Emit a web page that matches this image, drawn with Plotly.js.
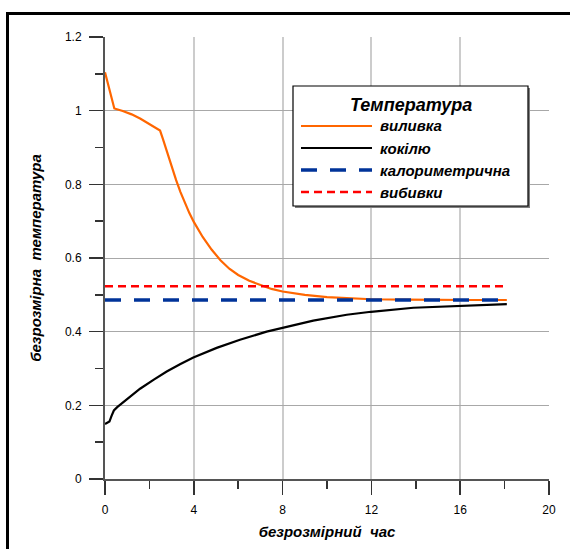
<!DOCTYPE html>
<html>
<head>
<meta charset="utf-8">
<script src="https://cdn.plot.ly/plotly-3.0.1.min.js"></script>
<style>
  html, body { margin: 0; padding: 0; background: #fff; }
  #wrap { position: relative; width: 570px; height: 549px; overflow: hidden; }
  #chart { position: absolute; left: 0; top: 0; width: 570px; height: 549px; }
  #frame { position: absolute; left: 6px; top: 12px; width: 700px; height: 700px;
           border-top: 3px solid #000; border-left: 3px solid #000; pointer-events: none; }
</style>
</head>
<body>
<div id="wrap"><div id="chart"></div><div id="frame"></div></div>
<script>
// ---- data ----
const seriesNames = ["виливка", "кокілю", "калориметрична", "вибивки"];
const legendTitle = "Температура";
const xTitle = "безрозмірний&nbsp;&nbsp;час";
const yTitle = "безрозмірна&nbsp;&nbsp;температура";

const castX = [0, 0.42, 0.8, 1.2, 1.6, 2.0, 2.48, 2.6, 2.8, 3.0, 3.2, 3.4, 3.6, 3.8, 4.0, 4.4, 4.8, 5.2, 5.6, 6.0, 6.5, 7.0, 7.5, 8.0, 9.0, 10.0, 11.0, 12.0, 13.5, 15.0, 16.5, 18.1];
const castY = [1.104, 1.006, 0.999, 0.990, 0.978, 0.963, 0.946, 0.925, 0.887, 0.848, 0.812, 0.779, 0.749, 0.722, 0.698, 0.657, 0.623, 0.594, 0.571, 0.554, 0.538, 0.526, 0.516, 0.509, 0.500, 0.494, 0.490, 0.488, 0.487, 0.486, 0.486, 0.486];

const mouldX = [0, 0.2, 0.3, 0.4, 0.55, 0.68, 1.0, 1.58, 2.2, 2.78, 3.4, 3.98, 5.03, 6.08, 7.28, 8.03, 8.78, 9.38, 10.89, 11.98, 13.89, 15.99, 18.1];
const mouldY = [0.149, 0.156, 0.172, 0.186, 0.195, 0.201, 0.217, 0.245, 0.270, 0.292, 0.312, 0.330, 0.356, 0.378, 0.400, 0.411, 0.422, 0.430, 0.446, 0.454, 0.465, 0.471, 0.475];

const caloX = [0, 18.1];
const caloY = [0.486, 0.486];

const knockX = [0, 18.1];
const knockY = [0.523, 0.523];

const xTickVals = [0, 4, 8, 12, 16, 20];
const yTickVals = [0, 0.2, 0.4, 0.6, 0.8, 1, 1.2];
const yTickText = ["0", "0.2", "0.4", "0.6", "0.8", "1", "1.2"];

// ---- styles ----
const FONT = "Liberation Sans, Arial, sans-serif";
const styles = [
  {color: "#ff6600", width: 2.2, dash: "solid"},
  {color: "#000000", width: 2.2, dash: "solid"},
  {color: "#003399", width: 3.5, dash: "16px,13px"},
  {color: "#ff0000", width: 2.5, dash: "8px,5px"}
];

const xs = [castX, mouldX, caloX, knockX];
const ys = [castY, mouldY, caloY, knockY];
const order = [1, 0, 3, 2];
const traces = order.map(i => ({
  x: xs[i], y: ys[i], type: "scatter", mode: "lines", name: seriesNames[i],
  line: {color: styles[i].color, width: styles[i].width, dash: styles[i].dash},
  showlegend: false, hoverinfo: "skip"
}));

// plot area in px: left 105, right 549, top 37, bottom 479
const L = 105, R = 549, T = 37, B = 479;
const PX = p => (p - L) / (R - L);
const PY = p => (B - p) / (B - T);

// legend drawn as layout decoration
const box = {x0: 293, x1: 528, y0: 86, y1: 206};
const rows = [126, 148, 170, 192];
const shapes = [
  {type: "rect", xref: "paper", yref: "paper", x0: PX(box.x0 + 2), x1: PX(box.x1 + 2), y0: PY(box.y0 + 2), y1: PY(box.y1 + 2),
   fillcolor: "#7f7f7f", line: {width: 0}, layer: "above"},
  {type: "rect", xref: "paper", yref: "paper", x0: PX(box.x0), x1: PX(box.x1), y0: PY(box.y0), y1: PY(box.y1),
   fillcolor: "#ffffff", line: {color: "#000000", width: 1.2}, layer: "above"}
];
const annotations = [
  {xref: "paper", yref: "paper", x: PX(411), y: PY(105), text: "<b><i>" + legendTitle + "</i></b>",
   showarrow: false, xanchor: "center", yanchor: "middle", font: {family: FONT, size: 18, color: "#000"}}
];
seriesNames.forEach((n, i) => {
  shapes.push({type: "line", xref: "paper", yref: "paper", x0: PX(301), x1: PX(372), y0: PY(rows[i]), y1: PY(rows[i]),
    line: {color: styles[i].color, width: styles[i].width, dash: styles[i].dash}, layer: "above"});
  annotations.push({xref: "paper", yref: "paper", x: PX(378), y: PY(rows[i]), text: "<b><i>" + n + "</i></b>",
    showarrow: false, xanchor: "left", yanchor: "middle", font: {family: FONT, size: 15, color: "#000"}});
});

const layout = {
  width: 570, height: 549,
  margin: {l: L, r: 570 - R, t: T, b: 549 - B, pad: 0},
  paper_bgcolor: "#ffffff", plot_bgcolor: "#ffffff",
  font: {family: FONT, size: 12, color: "#000"},
  showlegend: false,
  xaxis: {
    range: [0, 20], tickvals: xTickVals, ticktext: xTickVals.map(String),
    showgrid: true, gridcolor: "#cccccc", gridwidth: 2,
    zeroline: false, showline: true, linecolor: "#555555", linewidth: 2,
    ticks: "outside", ticklen: 14, tickwidth: 1.5, tickcolor: "#333333",
    ticklabelstandoff: 5,
    minor: {dtick: 2, ticks: "outside", ticklen: 8, tickwidth: 1.5, tickcolor: "#333333", showgrid: false},
    tickfont: {family: FONT, size: 12, color: "#000"},
    title: {text: "<b><i>" + xTitle + "</i></b>", font: {family: FONT, size: 15, color: "#000"}, standoff: 10},
    fixedrange: true
  },
  yaxis: {
    range: [0, 1.2], tickvals: yTickVals, ticktext: yTickText,
    showgrid: true, gridcolor: "#a8a8a8", gridwidth: 1,
    zeroline: false, showline: true, linecolor: "#555555", linewidth: 2,
    ticks: "outside", ticklen: 14, tickwidth: 1.5, tickcolor: "#333333",
    ticklabelstandoff: 5,
    minor: {dtick: 0.1, ticks: "outside", ticklen: 8, tickwidth: 1.5, tickcolor: "#333333", showgrid: false},
    tickfont: {family: FONT, size: 12, color: "#000"},
    title: {text: "<b><i>" + yTitle + "</i></b>", font: {family: FONT, size: 15, color: "#000"}, standoff: 20},
    fixedrange: true
  },
  shapes: shapes,
  annotations: annotations
};

Plotly.newPlot("chart", traces, layout, {displayModeBar: false, staticPlot: true});
</script>
</body>
</html>
